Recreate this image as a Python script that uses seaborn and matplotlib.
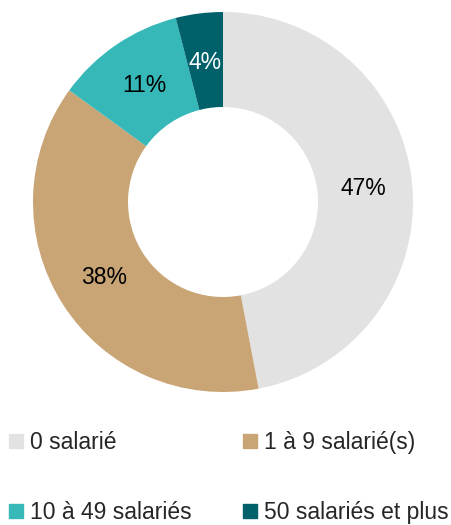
import matplotlib
matplotlib.use("Agg")
import matplotlib.pyplot as plt
import matplotlib.patches as mpatches
import seaborn as sns

sns.set_theme(style="white")
plt.rcParams['font.family'] = ['Liberation Sans', 'DejaVu Sans']

categories = ["0 salarié", "1 à 9 salarié(s)", "10 à 49 salariés", "50 salariés et plus"]
shares = [47, 38, 11, 4]
colors = ["#e2e2e2", "#c9a474", "#36b8b8", "#00616b"]
label_colors = ["black", "black", "black", "white"]

W, H = 452, 525
fig = plt.figure(figsize=(W / 100, H / 100), dpi=100)
ax = fig.add_axes([33 / W, 133 / H, 380 / W, 380 / H])

wedges, texts, autotexts = ax.pie(
    shares, colors=colors, startangle=90, counterclock=False,
    autopct=lambda p: f"{p:.0f}%", pctdistance=0.74,
    wedgeprops=dict(width=0.5, linewidth=0),
    textprops=dict(fontsize=16.5),
)
for t, c in zip(autotexts, label_colors):
    t.set_color(c)
ax.set_xlim(-1, 1)
ax.set_ylim(-1, 1)
ax.set_aspect("equal")

handles = [mpatches.Patch(color=c, label=l) for c, l in zip(colors, categories)]
order = [0, 2, 1, 3]
fig.legend([handles[i] for i in order], [categories[i] for i in order],
           loc="upper left", bbox_to_anchor=(0, 1 - 422 / H), ncol=2,
           frameon=False, fontsize=16.5, handlelength=0.6, handleheight=0.6,
           handletextpad=0.3, labelspacing=2.05, columnspacing=2.25,
           borderaxespad=0)

fig.savefig("out.png", dpi=100)
